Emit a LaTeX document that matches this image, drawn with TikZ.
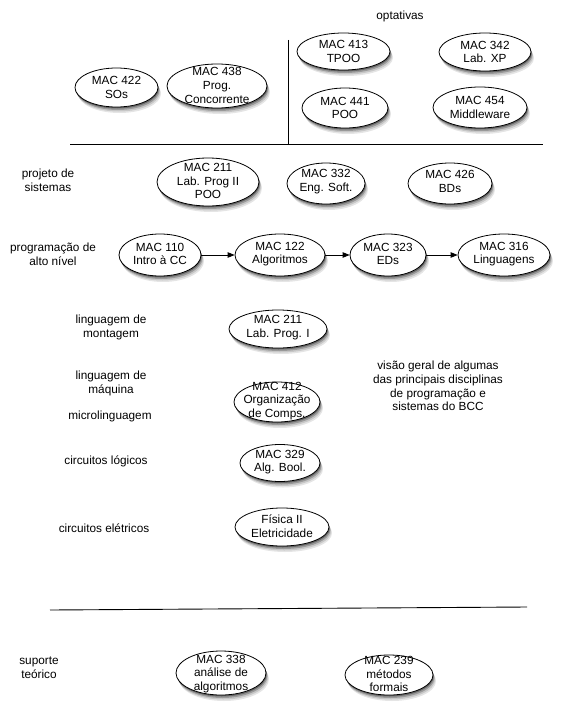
\documentclass[tikz,border=0pt]{standalone}
\usepackage{fontspec}
\setmainfont{Liberation Sans}
\usetikzlibrary{shapes.geometric,arrows.meta}
\begin{document}
\begin{tikzpicture}[x=1pt,y=-1pt,
  ell/.style 2 args={ellipse, draw=black, line width=0.8pt, fill=white,
    minimum width=2*#1, minimum height=2*#2, inner sep=0pt},
  txt/.style={align=center, inner sep=0pt, font=\fontsize{11.8}{13.6}\selectfont},
  arr/.style={line width=0.8pt, -{Triangle[length=7pt,width=5.5pt]}},
  rule/.style={line width=0.9pt}]
\useasboundingbox (0,0) rectangle (571,725);

% shadow helper: soft grey layers under an ellipse centred at (#1,#2), radii #3,#4
\def\shadowell#1#2#3#4{%
  \fill[black!10] ({#1+3},{#2+6}) ellipse [x radius=#3pt, y radius=#4pt];
  \fill[black!22] ({#1+2.2},{#2+4.5}) ellipse [x radius=#3pt, y radius=#4pt];
  \fill[black!40] ({#1+1.4},{#2+3}) ellipse [x radius=#3pt, y radius=#4pt];
  \fill[black!60] ({#1+0.7},{#2+1.5}) ellipse [x radius=#3pt, y radius=#4pt];
}

% top region
\node[txt] (opt) at (400,16) {optativas};
\shadowell{343.5}{51.5}{46.5}{18.5}
\node[ell={46.5}{18.5}] (m413) at (343.5,51.5) {};
\node[txt] at (m413) {MAC 413\\TPOO};
\shadowell{485}{52}{46}{19}
\node[ell={46}{19}] (m342) at (485,52) {};
\node[txt] at (m342) {MAC 342\\Lab. XP};
\shadowell{345}{108}{43}{20}
\node[ell={43}{20}] (m441) at (345,108) {};
\node[txt] at (m441) {MAC 441\\POO};
\shadowell{480}{107.5}{47}{20.5}
\node[ell={47}{20.5}] (m454) at (480,107.5) {};
\node[txt] at (m454) {MAC 454\\Middleware};
\shadowell{116.5}{87.5}{41.5}{19.5}
\node[ell={41.5}{19.5}] (m422) at (116.5,87.5) {};
\node[txt] at (m422) {MAC 422\\SOs};
\shadowell{217}{86}{50}{22}
\node[ell={50}{22}] (m438) at (217,86) {};
\node[txt] at (217,85.5) {MAC 438\\Prog.\\Concorrente};
\coordinate (vtop) at (288,40);
\coordinate (vbot) at (288,144);
\coordinate (hl) at (70,144);
\coordinate (hr) at (543,144);
\draw[rule] (vtop) -- (vbot);
\draw[rule] (hl) -- (hr);

% projeto de sistemas
\node[txt] (l1) at (48,180.5) {projeto de\\sistemas};
\shadowell{208}{182}{51}{24}
\node[ell={51}{24}] (m211b) at (208,182) {};
\node[txt] at (208,181) {MAC 211\\Lab. Prog II\\POO};
\shadowell{326}{183.5}{39}{20.5}
\node[ell={39}{20.5}] (m332) at (326,183.5) {};
\node[txt] at (326,181.5) {MAC 332\\Eng. Soft.};
\shadowell{450}{183.5}{42}{20.5}
\node[ell={42}{20.5}] (m426) at (450,183.5) {};
\node[txt] at (450,181.5) {MAC 426\\BDs};

% programacao de alto nivel
\node[txt] (l2) at (53,254) {programação de\\alto nível};
\shadowell{160}{255}{41}{21}
\node[ell={41}{21}] (m110) at (160,255) {};
\node[txt] at (160,254) {MAC 110\\Intro à CC};
\shadowell{280}{255}{45}{21}
\node[ell={45}{21}] (m122) at (280,255) {};
\node[txt] at (280,254) {MAC 122\\Algoritmos};
\shadowell{388}{255}{38}{21}
\node[ell={38}{21}] (m323) at (388,255) {};
\node[txt] at (388,254) {MAC 323\\EDs};
\shadowell{504}{255}{46}{21}
\node[ell={46}{21}] (m316) at (504,255) {};
\node[txt] at (504,254) {MAC 316\\Linguagens};
\draw[arr] (m110) -- (m122);
\draw[arr] (m122) -- (m323);
\draw[arr] (m323) -- (m316);

% lower levels
\node[txt] (l3) at (111,327.5) {linguagem de\\montagem};
\shadowell{278}{329}{49}{19}
\node[ell={49}{19}] (m211a) at (278,329) {};
\node[txt] at (278,327.5) {MAC 211\\Lab. Prog. I};
\node[txt] (l4) at (111,383.5) {linguagem de\\máquina};
\node[txt] (l5) at (110,416) {microlinguagem};
\shadowell{277}{402}{43}{20}
\node[ell={43}{20}] (m412) at (277,402) {};
\node[txt] at (277,401) {MAC 412\\Organização\\de Comps.};
\node[txt] (l6) at (106,461) {circuitos lógicos};
\shadowell{280}{463}{40}{18.5}
\node[ell={40}{18.5}] (m329) at (280,463) {};
\node[txt] at (280,462) {MAC 329\\Alg. Bool.};
\node[txt] (l7) at (104,528) {circuitos elétricos};
\shadowell{282}{527}{47}{19}
\node[ell={47}{19}] (fis) at (282,527) {};
\node[txt] at (282,526.5) {Física II\\Eletricidade};
\node[txt] (vis) at (438,386) {visão geral de algumas\\das principais disciplinas\\de programação e\\sistemas do BCC};

% suporte teorico
\coordinate (bl) at (50,610);
\coordinate (br) at (527,607);
\draw[rule] (bl) -- (br);
\node[txt] (l8) at (39,668) {suporte\\teórico};
\shadowell{221}{673}{45}{22}
\node[ell={45}{22}] (m338) at (221,673) {};
\node[txt] at (221,674) {MAC 338\\análise de\\algoritmos};
\shadowell{389}{675}{44}{20}
\node[ell={44}{20}] (m239) at (389,675) {};
\node[txt] at (389,674) {MAC 239\\métodos\\formais};
\end{tikzpicture}
\end{document}
